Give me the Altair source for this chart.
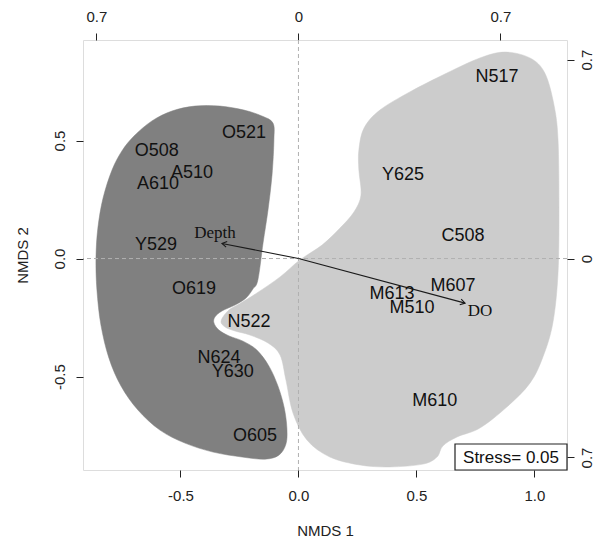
import math
import altair as alt
import pandas as pd

# ---------------- data (NMDS units) ----------------
sites = ["N517", "Y625", "C508", "M607", "M613", "M510", "M610", "N522", "O619",
         "Y529", "A610", "A510", "O508", "O521", "N624", "Y630", "O605"]
nmds1 = [0.841, 0.443, 0.697, 0.655, 0.396, 0.481, 0.578, -0.210, -0.443,
         -0.604, -0.595, -0.451, -0.600, -0.231, -0.337, -0.278, -0.184]
nmds2 = [0.769, 0.354, 0.095, -0.117, -0.150, -0.210, -0.604, -0.269, -0.129,
         0.057, 0.316, 0.362, 0.456, 0.532, -0.422, -0.481, -0.752]

env_vars = ["Depth", "DO"]
env_x = [-0.324, 0.706]
env_y = [0.064, -0.189]
env_lab_x = [-0.354, 0.769]
env_lab_y = [0.108, -0.222]

stress = 0.05

# group outlines (smoothed hulls)
dark_x = [-0.172, -0.193, -0.222, -0.269, -0.324, -0.354, -0.358, -0.337, -0.294, -0.235,
          -0.176, -0.125, -0.087, -0.061, -0.049, -0.053, -0.083, -0.142, -0.239, -0.362,
          -0.481, -0.587, -0.680, -0.752, -0.803, -0.837, -0.854, -0.858, -0.850, -0.828,
          -0.790, -0.748, -0.697, -0.621, -0.536, -0.439, -0.333, -0.231, -0.155, -0.108,
          -0.104, -0.112, -0.129, -0.150]
dark_y = [-0.091, -0.129, -0.167, -0.197, -0.222, -0.248, -0.273, -0.303, -0.328, -0.350,
          -0.388, -0.456, -0.540, -0.629, -0.718, -0.786, -0.833, -0.850, -0.841, -0.820,
          -0.782, -0.727, -0.642, -0.540, -0.422, -0.282, -0.133, 0.002, 0.129, 0.256,
          0.375, 0.456, 0.519, 0.583, 0.625, 0.646, 0.646, 0.629, 0.604, 0.574,
          0.502, 0.354, 0.206, 0.066]

light_x = [-0.328, -0.299, -0.248, -0.176, -0.078, 0.006, 0.100, 0.176, 0.235, 0.265,
           0.256, 0.256, 0.278, 0.345, 0.472, 0.629, 0.769, 0.875, 0.981, 1.044,
           1.083, 1.100, 1.104, 1.100, 1.078, 1.036, 0.981, 0.883, 0.769, 0.672,
           0.612, 0.587, 0.528, 0.388, 0.261, 0.133, 0.036, -0.023, -0.053, -0.078,
           -0.129, -0.206, -0.269, -0.311]
light_y = [-0.265, -0.222, -0.191, -0.146, -0.078, -0.006, 0.057, 0.129, 0.197, 0.269,
           0.375, 0.460, 0.553, 0.629, 0.706, 0.786, 0.850, 0.875, 0.850, 0.786,
           0.650, 0.502, 0.218, -0.061, -0.273, -0.417, -0.528, -0.629, -0.718, -0.756,
           -0.794, -0.841, -0.871, -0.883, -0.875, -0.841, -0.769, -0.655, -0.515, -0.409,
           -0.358, -0.324, -0.307, -0.290]

x_ticks = [-0.5, 0.0, 0.5, 1.0]
y_ticks = [-0.5, 0.0, 0.5]
vec_ticks_x = [-0.856, 0.0, 0.856]   # +-0.7 on the vector scale
vec_ticks_y = [-0.843, 0.0, 0.843]

x_domain = [-0.913, 1.138]
y_domain = [-0.896, 0.926]

# ---------------- tables ----------------
sites_df = pd.DataFrame({"site": sites, "x": nmds1, "y": nmds2})
dark_df = pd.DataFrame({"x": dark_x, "y": dark_y, "i": range(len(dark_x))})
light_df = pd.DataFrame({"x": light_x, "y": light_y, "i": range(len(light_x))})
env_df = pd.DataFrame({
    "var": env_vars, "x": env_x, "y": env_y,
    "lx": env_lab_x, "ly": env_lab_y,
    "x0": [0.0] * len(env_vars), "y0": [0.0] * len(env_vars),
    "ang": [(math.degrees(math.atan2(-yy, xx)) + 360) % 360 for xx, yy in zip(env_x, env_y)],
})
zero_df = pd.DataFrame({"v": [0.0]})
stress_df = pd.DataFrame({"label": [f"Stress= {stress:.2f}"]})

xs = alt.Scale(domain=x_domain, nice=False, zero=False)
ys = alt.Scale(domain=y_domain, nice=False, zero=False)

FONT = "Liberation Sans"
axis_common = dict(grid=False, domain=False, ticks=True, tickSize=7, tickColor="#222",
                   tickWidth=1, labelFont=FONT, labelFontSize=15, labelColor="#222",
                   titleFont=FONT, titleFontSize=15, titleFontWeight="normal", titleColor="#222")

num_expr = "datum.value < 0 ? '-' + format(-datum.value, '.1f') : format(datum.value, '.1f')"

bottom_axis = alt.Axis(orient="bottom", values=x_ticks, title="NMDS 1", labelExpr=num_expr,
                       labelPadding=11, titleY=60, titleBaseline="middle", **axis_common)
left_axis = alt.Axis(orient="left", values=y_ticks, title="NMDS 2", labelExpr=num_expr,
                     labelAngle=270, labelAlign="center", labelBaseline="bottom", labelPadding=9,
                     titleX=-61, titleBaseline="middle", titleAngle=270, **axis_common)
top_axis = alt.Axis(orient="top", values=vec_ticks_x, title=None,
                    labelExpr="datum.value == 0 ? '0' : '0.7'", labelPadding=9, **axis_common)
right_axis = alt.Axis(orient="right", values=vec_ticks_y, title=None,
                      labelExpr="datum.value == 0 ? '0' : '0.7'",
                      labelAngle=270, labelAlign="center", labelBaseline="top", labelPadding=5,
                      **axis_common)

dark = alt.Chart(dark_df).mark_line(
    interpolate="cardinal-closed", fill="#808080", stroke="#808080", strokeWidth=0.5
).encode(
    x=alt.X("x:Q", scale=xs, axis=bottom_axis),
    y=alt.Y("y:Q", scale=ys, axis=left_axis),
    order=alt.Order("i:Q"),
)

light = alt.Chart(light_df).mark_line(
    interpolate="cardinal-closed", fill="#cccccc", stroke="#cccccc", strokeWidth=0.5
).encode(
    x=alt.X("x:Q", scale=xs, axis=None),
    y=alt.Y("y:Q", scale=ys, axis=None),
    order=alt.Order("i:Q"),
)

vrule = alt.Chart(zero_df).mark_rule(color="#b0b0b0", strokeDash=[4, 3], strokeWidth=1).encode(
    x=alt.X("v:Q", scale=xs, axis=top_axis),
)
hrule = alt.Chart(zero_df).mark_rule(color="#b0b0b0", strokeDash=[4, 3], strokeWidth=1).encode(
    y=alt.Y("v:Q", scale=ys, axis=right_axis),
)

arrows = alt.Chart(env_df).mark_rule(color="#1a1a1a", strokeWidth=1.1).encode(
    x=alt.X("x0:Q", scale=xs, axis=None), y=alt.Y("y0:Q", scale=ys, axis=None),
    x2="x:Q", y2="y:Q",
)
heads = alt.Chart(env_df).mark_point(
    shape="M-1,-0.6L0,0L-1,0.6", filled=False, stroke="#1a1a1a", strokeWidth=1.1, size=90, opacity=1
).encode(
    x=alt.X("x:Q", scale=xs, axis=None), y=alt.Y("y:Q", scale=ys, axis=None),
    angle=alt.Angle("ang:Q", scale=None),
)
env_text = alt.Chart(env_df).mark_text(
    font="Liberation Serif", fontSize=17, color="#111", align="center", baseline="middle"
).encode(
    x=alt.X("lx:Q", scale=xs, axis=None), y=alt.Y("ly:Q", scale=ys, axis=None), text="var:N",
)

site_text = alt.Chart(sites_df).mark_text(
    font=FONT, fontSize=18, color="#111", align="center", baseline="middle"
).encode(
    x=alt.X("x:Q", scale=xs, axis=None), y=alt.Y("y:Q", scale=ys, axis=None), text="site:N",
)

box = alt.Chart(stress_df).mark_rect(fill="white", stroke="#222", strokeWidth=1.2).encode(
    x=alt.value(372), x2=alt.value(484), y=alt.value(404), y2=alt.value(430),
)
box_text = alt.Chart(stress_df).mark_text(
    font=FONT, fontSize=17, color="#111", align="center", baseline="middle"
).encode(
    x=alt.value(428), y=alt.value(418), text="label:N",
)

chart = alt.layer(
    light, dark, vrule, hrule, arrows, heads, env_text, site_text, box, box_text
).resolve_axis(
    x="independent", y="independent"
).properties(
    width=484, height=430,
    autosize=alt.AutoSizeParams(type="none"),
    padding={"left": 75, "top": 32, "right": 28, "bottom": 67},
).configure_view(
    stroke="#222", strokeWidth=1.3
).configure(background="white")

chart.save("out.html", embed_options={"renderer": "svg", "actions": False})
